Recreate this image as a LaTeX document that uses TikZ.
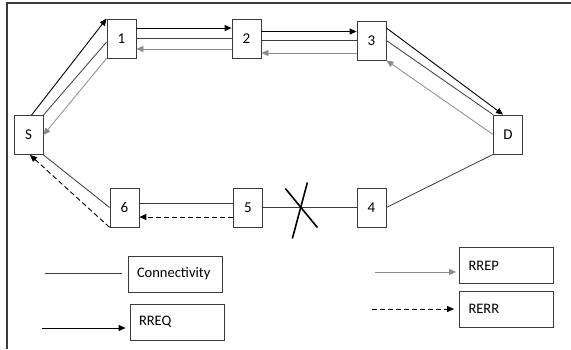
\documentclass[tikz,border=0pt]{standalone}
\usepackage{fontspec}
\setmainfont{Carlito}
\usetikzlibrary{arrows.meta,calc}
\definecolor{edge}{HTML}{3A3A3A}
\definecolor{reply}{HTML}{8A8A8A}
\tikzset{
  hop/.style={draw=edge,line width=0.8pt,minimum width=29pt,minimum height=39pt,inner sep=0pt,font=\fontsize{15}{17}\selectfont},
  legendbox/.style={draw=edge,line width=0.8pt,minimum height=36pt,text width=76pt,align=left,inner xsep=9pt,inner ysep=0pt,font=\fontsize{14.5}{16}\selectfont},
  tip/.style={-{Triangle[length=7pt,width=6pt]}},
  link/.style={draw=edge,line width=0.8pt},
  rreq/.style={tip,draw=black,line width=0.9pt},
  rrep/.style={tip,draw=reply,line width=0.8pt},
  rerr/.style={tip,draw=black,line width=0.9pt,dash pattern=on 5pt off 3pt},
}
\begin{document}
\begin{tikzpicture}[x=1pt,y=-1pt]
\useasboundingbox (0,0) rectangle (571,349);
% frame
\draw[edge,line width=1.2pt] (7,349) -- (7,3) -- (571,3);

% route nodes
\node[hop] (S) at (28.5,135) {S};
\node[hop] (n1) at (121.5,38.5) {1};
\node[hop] (n2) at (246.5,38.5) {2};
\node[hop] (n3) at (371.5,40.5) {3};
\node[hop] (D) at (508,134.5) {D};
\node[hop] (n6) at (124.5,207.5) {6};
\node[hop] (n5) at (248,207.5) {5};
\node[hop] (n4) at (371.5,207.5) {4};

% S -- 1
\draw[rreq] ([xshift=3pt]S.north) -- (n1.north west);
\draw[link] (S.north east) -- ([yshift=-3.5pt]n1.west);
\draw[rrep] (n1.south west) -- (S.east);

% 1 -- 2
\draw[rreq] ([yshift=10.5pt]n1.east) -- ([yshift=10.5pt]n2.west);
\draw[link] (n1.east) -- (n2.west);
\draw[rrep] ([yshift=-10.5pt]n2.west) -- ([yshift=-10.5pt]n1.east);

% 2 -- 3
\draw[rreq] ([yshift=7pt]n2.east) -- ([yshift=7pt]n2.east -| n3.west);
\draw[link] ([yshift=-1.5pt]n2.east) -- ([yshift=-1.5pt]n2.east -| n3.west);
\draw[rrep] ([yshift=-12.5pt]n3.west) -- ([yshift=-12.5pt]n3.west -| n2.east);

% 3 -- D
\draw[rreq] ([yshift=12.5pt]n3.east) -- ([xshift=-5pt]D.north);
\draw[link] (n3.east) -- (D.north west);
\draw[rrep] (D.west) -- (n3.south east);

% D -- 4 -- 5 (broken link)
\draw[link] (D.south west) -- (n4.east);
\draw[link] (n5.east) -- (n4.west);
\coordinate (cut) at ($(n5.east)!0.4!(n4.west)$);
\draw[black,line width=1.6pt] ($(cut)+(-15,-19)$) -- ($(cut)+(17,20)$);
\draw[black,line width=1.6pt] ($(cut)+(7,-25)$) -- ($(cut)+(-8,31)$);

% 5 -- 6
\draw[link] ([yshift=4.5pt]n5.west) -- ([yshift=4.5pt]n5.west -| n6.east);
\draw[rerr] ([yshift=-9.5pt]n5.west) -- ([yshift=-9.5pt]n5.west -| n6.east);

% 6 -- S
\draw[link] (S.south east) -- (n6.west);
\draw[rerr] (n6.south west) -- ([xshift=1.5pt]S.south);

% legend
\node[legendbox] (lc) at (175,274) {Connectivity};
\node[legendbox] (lq) at (177,322) {RREQ};
\node[legendbox] (lp) at (506.5,265.5) {RREP};
\node[legendbox] (le) at (506.5,309) {RERR};
\coordinate (sc) at (45,273);
\coordinate (sq) at (42,328);
\coordinate (sp) at (375,272);
\coordinate (se) at (372,309);
\draw[link,shorten >=6pt] (sc) -- (sc -| lc.west);
\draw[rreq,shorten >=4pt] (sq) -- (sq -| lq.west);
\draw[rrep,shorten >=3pt] (sp) -- (sp -| lp.west);
\draw[rerr,shorten >=5pt] (se) -- (se -| le.west);
\end{tikzpicture}
\end{document}
